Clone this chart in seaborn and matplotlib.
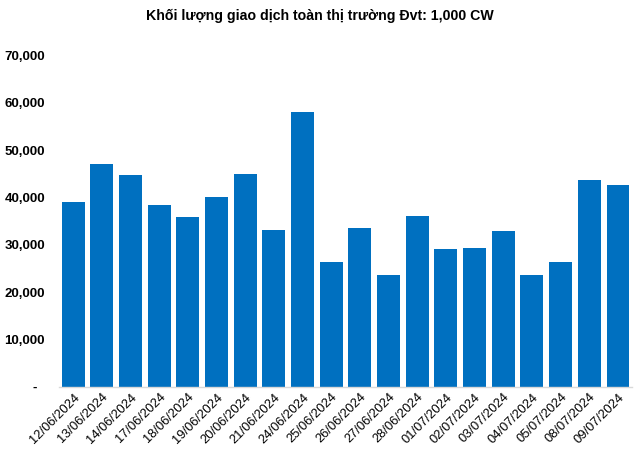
import matplotlib
matplotlib.use("Agg")
import matplotlib.pyplot as plt
import seaborn as sns
import pandas as pd
from matplotlib.ticker import FuncFormatter

dates = ["12/06/2024", "13/06/2024", "14/06/2024", "17/06/2024", "18/06/2024",
         "19/06/2024", "20/06/2024", "21/06/2024", "24/06/2024", "25/06/2024",
         "26/06/2024", "27/06/2024", "28/06/2024", "01/07/2024", "02/07/2024",
         "03/07/2024", "04/07/2024", "05/07/2024", "08/07/2024", "09/07/2024"]
volumes = [39100, 47100, 44800, 38400, 35800, 40100, 45000, 33150, 58100, 26400,
           33600, 23700, 36100, 29150, 29400, 33000, 23700, 26400, 43700, 42700]
title = "Khối lượng giao dịch toàn thị trường Đvt: 1,000 CW"
yticks = [0, 10000, 20000, 30000, 40000, 50000, 60000, 70000]

sns.set_theme(style="white")
plt.rcParams['font.family'] = ['Liberation Sans', 'DejaVu Sans']

df = pd.DataFrame({"date": dates, "volume": volumes})

fig = plt.figure(figsize=(6.4, 4.51), dpi=100)
ax = fig.add_axes([0.092, 0.142, 0.896, 0.735])
sns.barplot(data=df, x="date", y="volume", color="#0070C0", saturation=1,
            width=0.8, linewidth=0, ax=ax)

ax.set_ylim(0, 70000)
ax.set_xlim(-0.5, len(dates) - 0.5)
ax.set_yticks(yticks)
ax.yaxis.set_major_formatter(FuncFormatter(lambda v, p: "-  " if v == 0 else f"{int(v):,}"))
ax.set_xlabel("")
ax.set_ylabel("")
for s in ["top", "right", "left"]:
    ax.spines[s].set_visible(False)
ax.spines["bottom"].set_color("#D9D9D9")
ax.spines["bottom"].set_linewidth(1)
ax.tick_params(axis="y", length=0, pad=10, labelsize=9.5, labelcolor="black")
ax.tick_params(axis="x", length=0, pad=3, labelsize=9.3, labelcolor="black")
for lbl in ax.get_yticklabels():
    lbl.set_fontweight("bold")
plt.setp(ax.get_xticklabels(), rotation=45, ha="right", rotation_mode="anchor")
ax.grid(False)

fig.text(0.5, 0.965, title, ha="center", va="center", fontsize=10.2,
         fontweight="bold", color="black")

fig.savefig("out.png", dpi=100)
